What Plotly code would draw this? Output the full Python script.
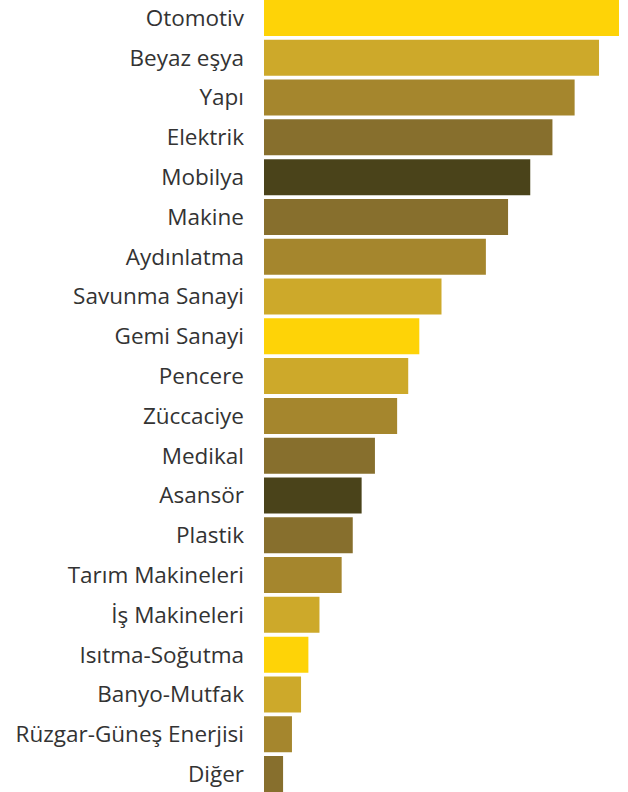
import plotly.graph_objects as go

categories = ["Otomotiv", "Beyaz eşya", "Yapı", "Elektrik", "Mobilya", "Makine",
              "Aydınlatma", "Savunma Sanayi", "Gemi Sanayi", "Pencere", "Züccaciye",
              "Medikal", "Asansör", "Plastik", "Tarım Makineleri", "İş Makineleri",
              "Isıtma-Soğutma", "Banyo-Mutfak", "Rüzgar-Güneş Enerjisi", "Diğer"]
values = [16, 15.1, 14, 13, 12, 11, 10, 8, 7, 6.5, 6, 5, 4.4, 4, 3.5, 2.5, 2, 1.67, 1.26, 0.86]
colors = ["#FED307", "#CDA92A", "#A5862D", "#876F2D", "#4A431A", "#876F2D",
          "#A5862D", "#CDA92A", "#FED307", "#CDA92A", "#A5862D", "#876F2D",
          "#4A431A", "#876F2D", "#A5862D", "#CDA92A", "#FED307", "#CDA92A",
          "#A5862D", "#876F2D"]

fig = go.Figure(go.Bar(
    x=values, y=categories, orientation="h",
    marker=dict(color=colors, line=dict(width=0)),
    hoverinfo="x+y",
))

n = len(categories)
fig.update_layout(
    width=628, height=792,
    margin=dict(l=264, r=9, t=0, b=0),
    paper_bgcolor="white", plot_bgcolor="white",
    bargap=0.095,
    showlegend=False,
    xaxis=dict(visible=False, range=[0, 16], fixedrange=True),
    yaxis=dict(
        categoryorder="array", categoryarray=categories,
        range=[n - 1 + 0.452, -0.452],
        showgrid=False, zeroline=False, showline=False,
        ticks="", ticklabelstandoff=19,
        tickfont=dict(family="Open Sans", size=22.5, color="#333333"),
    ),
)

fig.write_html("out.html", config={"displayModeBar": False},
               post_script="document.body.style.margin='0';")
